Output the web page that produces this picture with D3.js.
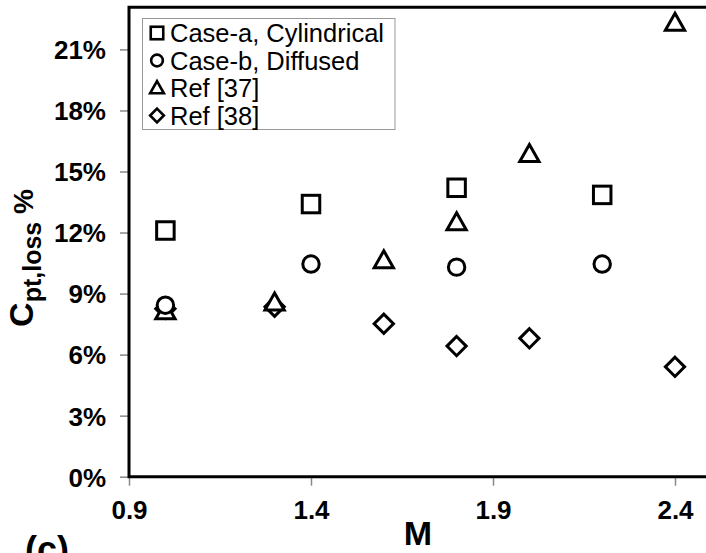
<!DOCTYPE html>
<html><head><meta charset="utf-8">
<script src="https://cdn.jsdelivr.net/npm/d3@7"></script>
<style>body{margin:0;background:#fff;} svg{display:block;font-family:"Liberation Sans",Arial,sans-serif;}</style>
</head><body>
<svg id="c" width="706" height="553"></svg>
<script>
const xTicks = [0.9, 1.4, 1.9, 2.4];
const yTicks = [0, 0.03, 0.06, 0.09, 0.12, 0.15, 0.18, 0.21];
const caseA_M = [1.0, 1.4, 1.8, 2.2];
const caseA_V = [0.121, 0.134, 0.142, 0.1385];
const caseB_M = [1.0, 1.4, 1.8, 2.2];
const caseB_V = [0.0843, 0.1045, 0.1030, 0.1045];
const ref37_M = [1.0, 1.3, 1.6, 1.8, 2.0, 2.4];
const ref37_V = [0.0812, 0.0855, 0.1063, 0.1250, 0.1585, 0.2230];
const ref38_M = [1.0, 1.3, 1.6, 1.8, 2.0, 2.4];
const ref38_V = [0.0825, 0.0835, 0.0752, 0.0642, 0.0680, 0.0540];
const seriesNames = ["Case-a, Cylindrical", "Case-b, Diffused", "Ref [37]", "Ref [38]"];

const svg = d3.select("#c");
const x = d3.scaleLinear().domain([0.9, 2.5]).range([129, 711.4]);
const y = d3.scaleLinear().domain([0, 0.2307]).range([476.7, 7.3]);

// axes
const gx = svg.append("g").attr("transform", "translate(0,476.7)")
  .call(d3.axisBottom(x).tickValues(xTicks).tickSize(9).tickFormat(d3.format(".1f")));
const gy = svg.append("g").attr("transform", "translate(129,0)")
  .call(d3.axisLeft(y).tickValues(yTicks).tickSize(9).tickFormat(d3.format(".0%")));
[gx, gy].forEach(g => {
  g.select(".domain").remove();
  g.selectAll(".tick line").attr("stroke", "#888").attr("stroke-width", 1.5);
  g.selectAll(".tick text").attr("fill", "#000").attr("font-weight", "bold")
    .attr("font-size", 26).attr("font-family", "'Liberation Sans',Arial,sans-serif");
});
gx.selectAll(".tick text").attr("y", 24).attr("dy", "0.71em");
gy.selectAll(".tick text").attr("x", -23).attr("dy", "0.36em");

// frame
svg.append("path")
  .attr("d", `M${x(0.9)},${y(0)}H${x(2.5)}V${y(0.2307)}H${x(0.9)}Z`)
  .attr("fill", "none").attr("stroke", "#000").attr("stroke-width", 3);

// marker shapes
function marker(g, type, s) {
  if (type === 0) g.append("rect").attr("x", -s/2).attr("y", -s/2).attr("width", s).attr("height", s);
  else if (type === 1) g.append("circle").attr("r", s*0.47);
  else if (type === 2) g.append("path").attr("d", `M0,${-s*0.55}L${s*0.55},${s*0.42}L${-s*0.55},${s*0.42}Z`);
  else g.append("path").attr("d", `M0,${-s*0.55}L${s*0.55},0L0,${s*0.55}L${-s*0.55},0Z`);
  g.selectAll("*").attr("fill", "#fff").attr("stroke", "#000").attr("stroke-width", 3).attr("stroke-linejoin", "miter");
}

const series = [
  [caseA_M, caseA_V], [caseB_M, caseB_V], [ref37_M, ref37_V], [ref38_M, ref38_V]
];
[3, 2, 1, 0].forEach(t => {
  const [ms, vs] = series[t];
  ms.forEach((m, i) => {
    const g = svg.append("g").attr("transform", `translate(${x(m)},${y(vs[i])})`);
    marker(g, t, 17.5);
  });
});

// legend
const lg = svg.append("g");
lg.append("rect").attr("x", 142.5).attr("y", 18.5).attr("width", 252.5).attr("height", 111)
  .attr("fill", "#fff").attr("stroke", "#999").attr("stroke-width", 1);
seriesNames.forEach((n, i) => {
  const cy = 33 + i * 27.5;
  const g = lg.append("g").attr("transform", `translate(157,${cy})`);
  marker(g, i, 12.5);
  g.selectAll("*").attr("stroke-width", 2.6);
  lg.append("text").attr("x", 170).attr("y", cy).attr("dy", "0.36em")
    .attr("font-size", 25.5).attr("fill", "#000").text(n);
});

// axis titles
svg.append("text").attr("x", 418).attr("y", 545).attr("text-anchor", "middle")
  .attr("font-size", 34).attr("font-weight", "bold").text("M");
svg.append("text").attr("x", 25).attr("y", 562).attr("font-size", 36).attr("font-weight", "bold").text("(c)");

const yt = svg.append("text").attr("transform", "translate(33,258) rotate(-90)")
  .attr("text-anchor", "middle").attr("font-weight", "bold");
yt.append("tspan").attr("font-size", 34).text("C");
yt.append("tspan").attr("font-size", 25).attr("dy", 8).text("pt,loss");
yt.append("tspan").attr("font-size", 28).attr("dy", -8).text(" %");
</script>
</body></html>
